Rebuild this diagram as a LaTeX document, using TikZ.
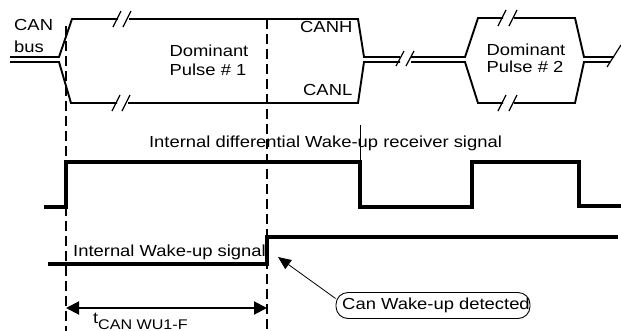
\documentclass[tikz,border=0pt]{standalone}
\usepackage{fontspec}
\setmainfont{Liberation Sans}[FakeStretch=1.15]
\usetikzlibrary{arrows.meta}
\tikzset{
  bus/.style={line width=1.9pt, line join=miter},
  brk/.style={line width=1.2pt},
  sig/.style={line width=3.1pt, line join=miter},
  guide/.style={line width=1.9pt, dash pattern=on 10pt off 5pt},
  txt/.style={inner sep=0pt, anchor=base},
  txtw/.style={inner sep=0pt, anchor=base west},
  dim/.style={line width=2pt, {Triangle[length=13pt,width=13pt]}-{Triangle[length=13pt,width=13pt]}},
  callout/.style={line width=0.8pt, -{Triangle[length=13pt,width=11pt]}},
  bubble/.style={draw, line width=0.9pt, rounded corners=12pt, inner sep=0pt, minimum width=194pt, minimum height=26pt}
}
\begin{document}
\begin{tikzpicture}[x=1pt,y=-1pt,font=\fontsize{16}{19}\selectfont]
\useasboundingbox (0,0) rectangle (621,330);
\clip (0,0) rectangle (621,330);
\fill[white] (0,0) rectangle (621,330);

% guide lines
\coordinate (g1t) at (66,26);
\coordinate (g1b) at (66,332);
\coordinate (g2t) at (267,19);
\coordinate (g2b) at (267,332);
\draw[guide] (g1t) -- (g1b);
\draw[guide] (g2t) -- (g2b);

% CAN bus, left part and pulse 1
\draw[bus] (10,57) -- (59,57) -- (72,19) -- (118,19);
\draw[bus] (129,19) -- (358,19) -- (364,57) -- (400,57);
\draw[bus] (10,62) -- (59,62) -- (71,103) -- (117,103);
\draw[bus] (128,103) -- (358,103) -- (364,62) -- (400,62);
% between pulses and pulse 2
\draw[bus] (411,57) -- (465,57) -- (478,18) -- (503,18);
\draw[bus] (514,18) -- (575,18) -- (584,57) -- (614,57);
\draw[bus] (411,62) -- (465,62) -- (478,103) -- (503,103);
\draw[bus] (514,103) -- (575,103) -- (584,62) -- (610,62);

% break marks
\foreach \x/\y in {117/19,127/19,116/103,126/103,502/18,513/18,502/103,513/103}{
  \draw[brk] (\x-4,\y+8) -- (\x+4,\y-8);
}
\draw[brk] (396,66) -- (404,51);
\draw[brk] (406,66) -- (414,51);
\draw[brk] (607,67) -- (621,45);

% bus labels
\node[txtw] (can) at (14,30) {CAN};
\node[txtw] (bus) at (14,52) {bus};
\node[txt] (d1a) at (209,56) {Dominant};
\node[txt] (d1b) at (208,75) {Pulse \# 1};
\node[txtw] (canh) at (300,32) {CANH};
\node[txtw] (canl) at (303,95) {CANL};
\node[txt] (d2a) at (526,55) {Dominant};
\node[txt] (d2b) at (525,72.5) {Pulse \# 2};

% receiver signal
\node[txt] (rxl) at (325.5,147) {Internal differential Wake-up receiver signal};
\draw[sig] (44,207) -- (66,207) -- (66,162) -- (360,162) -- (360,207) -- (472,207) -- (472,162) -- (579,162) -- (579,206) -- (621,206);
\draw[line width=1pt] (360,125) -- (360,162);

% wake-up signal
\node[txtw] (wul) at (73,256) {Internal Wake-up signal};
\draw[sig] (48,264) -- (267,264) -- (267,237) -- (618,237);

% callout
\node[bubble] (det) at (433,305.5) {\hspace*{6pt}Can Wake-up detected};
\coordinate (tip) at (278,257);
\draw[callout] ([yshift=7pt]det.west) -- (tip);

% timing dimension
\coordinate (da) at (66,308);
\coordinate (db) at (267,308);
\draw[dim] (da) -- (db);
\node[txtw] (tl) at (93,323) {t};
\node[txtw, font=\fontsize{14}{16}\selectfont] (tsub) at (98,329) {CAN WU1-F};
\end{tikzpicture}
\end{document}
